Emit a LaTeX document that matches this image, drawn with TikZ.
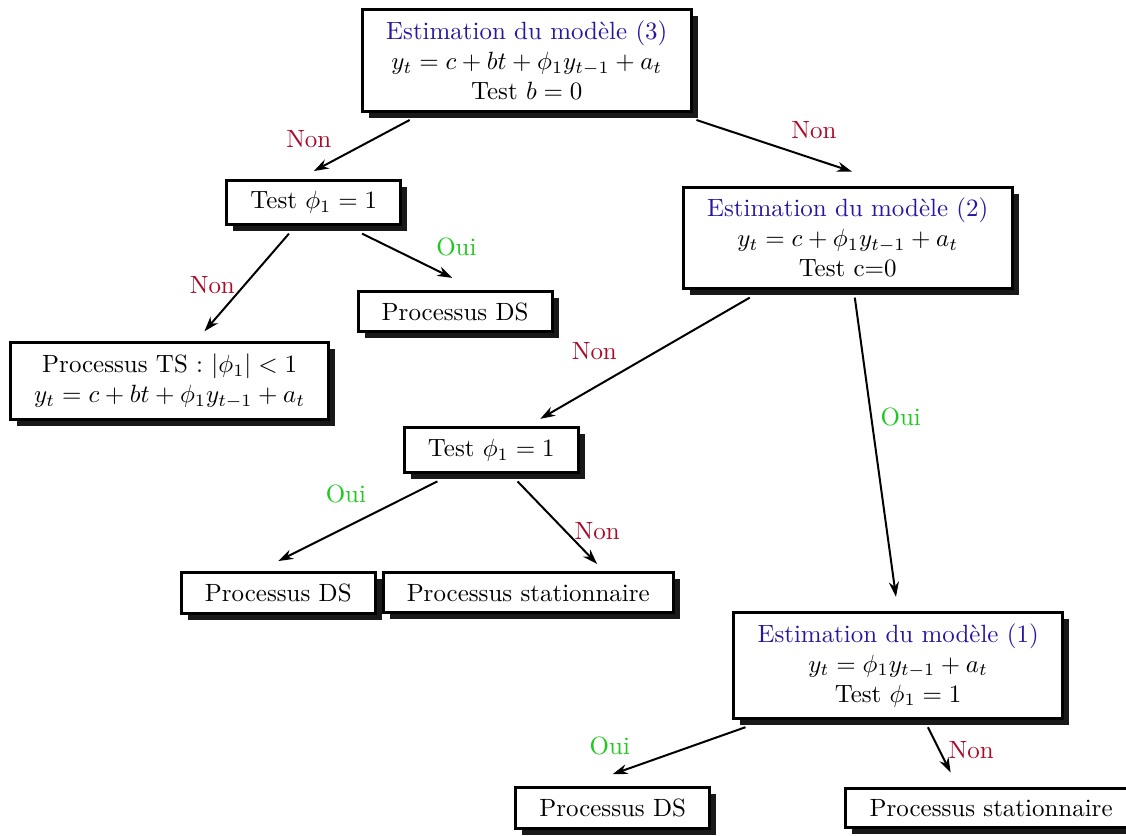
\documentclass[tikz,border=0pt]{standalone}
\usepackage{amsmath, amssymb}
\usepackage[dvipsnames]{xcolor}
\usepackage{tikz}
\usetikzlibrary{shadows}
\usetikzlibrary{arrows.meta}

\definecolor{titleblue}{RGB}{40,22,160}
\definecolor{nonred}{RGB}{170,10,40}
\definecolor{ouigreen}{RGB}{30,200,30}

\tikzset{
    box/.style={shape=rectangle, draw=black, fill=white, line width=1.2pt,
        align=center, inner xsep=9.5pt, inner ysep=4.5pt,
        drop shadow={fill=black, opacity=0.9, shadow xshift=2.6pt, shadow yshift=-2.6pt}},
    arr/.style={-{Stealth[length=6pt, width=4pt]}, line width=0.8pt},
    non/.style={text=nonred},
    oui/.style={text=ouigreen}}

\begin{document}
\begin{tikzpicture}

            \clip (0,0) rectangle (15.86,-11.77);
            \useasboundingbox (0,0) rectangle (15.86,-11.77);

            \node[box] (M3) at (7.42,-0.85) {\textcolor{titleblue}{Estimation du mod\`ele (3)}\\ $y_t = c + bt + \phi_1 y_{t-1} + a_t$\\ Test $b=0$};
            \node[box] (T1) at (4.42,-2.85) {Test $\phi_1 = 1$};
            \node[box] (DSa) at (6.41,-4.39) {Processus DS};
            \node[box] (TS) at (2.39,-5.37) {Processus TS : $|\phi_1| < 1$\\ $y_t = c + bt + \phi_1 y_{t-1} + a_t$};
            \node[box] (M2) at (11.94,-3.35) {\textcolor{titleblue}{Estimation du mod\`ele (2)}\\ $y_t = c + \phi_1 y_{t-1} + a_t$\\ Test c=0};
            \node[box] (T2) at (6.92,-6.34) {Test $\phi_1 = 1$};
            \node[box] (DSb) at (3.92,-8.35) {Processus DS};
            \node[box] (STb) at (7.44,-8.35) {Processus stationnaire};
            \node[box] (M1) at (12.65,-9.37) {\textcolor{titleblue}{Estimation du mod\`ele (1)}\\ $y_t = \phi_1 y_{t-1} + a_t$\\ Test $\phi_1 = 1$};
            \node[box] (DSc) at (8.63,-11.38) {Processus DS};
            \node[box] (STc) at (13.96,-11.38) {Processus stationnaire};

            \draw[arr] ([xshift=-1.65cm, yshift=-3pt]M3.south) -- ([yshift=3pt]T1.north) node[non, pos=0.72, above left] {Non};
            \draw[arr] ([xshift=2.39cm, yshift=-3pt]M3.south) -- ([xshift=0.06cm, yshift=5.6pt]M2.north) node[non, pos=0.55, above right] {Non};
            \draw[arr] ([xshift=-0.35cm, yshift=-3pt]T1.south) -- ([xshift=0.49cm, yshift=4pt]TS.north) node[non, pos=0.53, left] {Non};
            \draw[arr] ([xshift=0.68cm, yshift=-3pt]T1.south) -- ([xshift=-0.04cm, yshift=4.8pt]DSa.north) node[oui, pos=0.72, above right] {Oui};
            \draw[arr] ([xshift=-1.38cm, yshift=-3pt]M2.south) -- ([xshift=0.69cm, yshift=3pt]T2.north) node[non, pos=0.59, above left] {Non};
            \draw[arr] ([xshift=0.1cm, yshift=-3pt]M2.south) -- ([xshift=-0.03cm, yshift=5.6pt]M1.north) node[oui, pos=0.4, right] {Oui};
            \draw[arr] ([xshift=-0.76cm, yshift=-3pt]T2.south) -- ([yshift=4pt]DSb.north) node[oui, pos=0.39, above left] {Oui};
            \draw[arr] ([xshift=0.37cm, yshift=-3pt]T2.south) -- ([xshift=0.97cm, yshift=3pt]STb.north) node[non, pos=0.6, right] {Non};
            \draw[arr] ([xshift=-2.15cm, yshift=-3pt]M1.south) -- ([yshift=4.8pt]DSc.north) node[oui, pos=0.8, above left] {Oui};
            \draw[arr] ([xshift=0.42cm, yshift=-3pt]M1.south) -- ([xshift=-0.57cm, yshift=5.6pt]STc.north) node[non, pos=0.5, right] {Non};

        \end{tikzpicture}
\end{document}
